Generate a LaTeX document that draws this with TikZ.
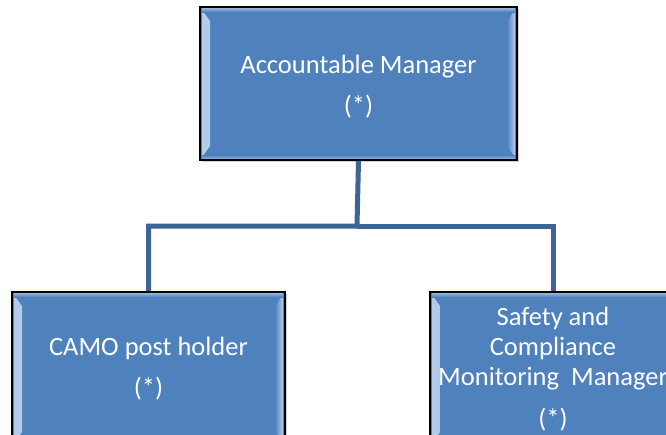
\documentclass[tikz,border=0pt]{standalone}
\usepackage{fontspec}
\setmainfont{Carlito}
\usetikzlibrary{positioning,shadows}
\definecolor{boxblue}{HTML}{4F81BD}
\definecolor{boxlight}{HTML}{B4CDEB}
\definecolor{linkblue}{HTML}{3C6595}
\tikzset{
  post/.style={draw=black,line width=1.6pt,fill=boxblue,text=white,
    align=center,font=\fontsize{26.5}{30}\selectfont,inner sep=0pt,
    drop shadow={shadow xshift=1.5pt,shadow yshift=-1.5pt,opacity=0.35},
    path picture={
      % light bevel strips on the four inner edges
      \fill[left color=boxlight,right color=boxblue]
        ([xshift=2pt,yshift=-3pt]path picture bounding box.north west) --
        ([xshift=10pt,yshift=-14pt]path picture bounding box.north west) --
        ([xshift=10pt,yshift=14pt]path picture bounding box.south west) --
        ([xshift=2pt,yshift=3pt]path picture bounding box.south west) -- cycle;
      \fill[right color=boxlight,left color=boxblue]
        ([xshift=-2pt,yshift=-3pt]path picture bounding box.north east) --
        ([xshift=-10pt,yshift=-14pt]path picture bounding box.north east) --
        ([xshift=-10pt,yshift=14pt]path picture bounding box.south east) --
        ([xshift=-2pt,yshift=3pt]path picture bounding box.south east) -- cycle;
      \fill[top color=boxlight!70!boxblue,bottom color=boxblue]
        ([xshift=2pt,yshift=-1pt]path picture bounding box.north west) rectangle
        ([xshift=-2pt,yshift=-5pt]path picture bounding box.north east);
      \fill[bottom color=boxlight!70!boxblue,top color=boxblue]
        ([xshift=2pt,yshift=1pt]path picture bounding box.south west) rectangle
        ([xshift=-2pt,yshift=5pt]path picture bounding box.south east);
    }},
  link/.style={draw=linkblue,line width=5pt}
}
\begin{document}
\begin{tikzpicture}[x=1pt,y=-1pt]
\useasboundingbox (0,0) rectangle (666,434);
% the manager on top
\node[post,minimum width=317pt,minimum height=153pt] (am) at (358.5,83.5)
  {\rule{0pt}{24pt}Accountable Manager\\[11pt](*)};
% the two post holders below
\node[post,minimum width=273pt,minimum height=154pt] (camo) at (148.5,369)
  {CAMO post holder\\[11pt](*)};
\node[post,minimum width=246pt,minimum height=154pt] (scm) at (553,369)
  {Safety and\\Compliance\\Monitoring~~Manager\\[12pt](*)};
% lines of report
\coordinate (fork) at (357,226);
\draw[link] (am.south) -- (fork) -| (camo.north);
\draw[link] (fork) -| (scm.north);
\end{tikzpicture}
\end{document}
